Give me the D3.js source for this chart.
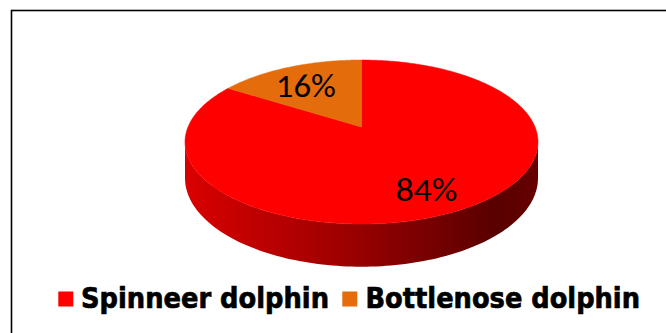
<!DOCTYPE html>
<html>
<head>
<meta charset="utf-8">
<script src="https://cdn.jsdelivr.net/npm/d3@7"></script>
<style>
  html, body { margin: 0; padding: 0; background: #fff; }
  svg { display: block; }
</style>
</head>
<body>
<svg id="chart" width="666" height="333"></svg>
<script>
// ---- data ----
const categories = ["Spinneer dolphin", "Bottlenose dolphin"];
const values = [84, 16];
const labels = ["84%", "16%"];
const colors = ["#FF0000", "#E46C0A"];

// ---- layout ----
const W = 666, H = 333;
const cx = 361.5;          // horizontal centre of the pie
const yApex = 127;         // projected centre of the top face
const yTopRim = 60;        // far edge of top face
const yBottomRim = 224;    // near edge of top face
const halfWidth = 176.5;   // widest half-width of top face
const frontDepth = 42.7;   // thickness at the near edge

// projective mapping of the tilted disc
const c = (2 * yApex - yBottomRim - yTopRim) / (yTopRim - yBottomRim);
const a = yTopRim * (c + 1) - yApex;
const k = halfWidth * Math.sqrt(1 - c * c);
const d0 = frontDepth * (1 - c);

function project(theta, f = 1) {
  const u = f * Math.cos(theta), s = f * Math.sin(theta);
  const w = 1 + c * u;
  return [cx + k * s / w, (a * u + yApex) / w];
}
function projectBottom(theta) {
  const [x, y] = project(theta);
  const w = 1 + c * Math.cos(theta);
  return [x, y + d0 / w];
}

const svg = d3.select("#chart");

// frame
svg.append("rect")
  .attr("x", 11.5).attr("y", 10.5)
  .attr("width", 720).attr("height", 400)
  .attr("fill", "none").attr("stroke", "#000").attr("stroke-width", 1.6);

const pie = d3.pie().sort(null).value(d => d).startAngle(0).endAngle(2 * Math.PI);
const arcs = pie(values);

// side gradients
const defs = svg.append("defs");
arcs.forEach((d, i) => {
  const base = d3.rgb(colors[i]);
  const g = defs.append("linearGradient")
    .attr("id", "side" + i)
    .attr("gradientUnits", "userSpaceOnUse")
    .attr("x1", cx - halfWidth).attr("x2", cx + halfWidth)
    .attr("y1", 0).attr("y2", 0);
  const scaleCol = (m) => d3.rgb(base.r * m, base.g * m, base.b * m).formatHex();
  g.append("stop").attr("offset", "0%").attr("stop-color", scaleCol(0.85));
  g.append("stop").attr("offset", "45%").attr("stop-color", scaleCol(0.62));
  g.append("stop").attr("offset", "88%").attr("stop-color", scaleCol(0.35));
  g.append("stop").attr("offset", "100%").attr("stop-color", scaleCol(0.40));
});

// visible front side: between silhouette angles
const thL = Math.acos(-c);                 // right silhouette
const thR = 2 * Math.PI - Math.acos(-c);   // left silhouette
const line = d3.line();
const sideG = svg.append("g");
arcs.forEach((d, i) => {
  const s0 = Math.max(d.startAngle, thL), s1 = Math.min(d.endAngle, thR);
  if (s1 <= s0) return;
  const n = 120;
  const ts = d3.range(n + 1).map(j => s0 + (s1 - s0) * j / n);
  const pts = ts.map(t => project(t)).concat(ts.slice().reverse().map(t => projectBottom(t)));
  sideG.append("path")
    .attr("d", line(pts) + "Z")
    .attr("fill", `url(#side${i})`);
});

// top face slices
const topG = svg.append("g");
arcs.forEach((d, i) => {
  const n = Math.max(8, Math.ceil((d.endAngle - d.startAngle) * 60));
  const ts = d3.range(n + 1).map(j => d.startAngle + (d.endAngle - d.startAngle) * j / n);
  const pts = [project(0, 0)].concat(ts.map(t => project(t)));
  topG.append("path")
    .attr("d", line(pts) + "Z")
    .attr("fill", colors[i])
    .attr("stroke", colors[i]).attr("stroke-width", 0.5);
});

// data labels
const labelRadius = 0.7;
const labelShift = [[-1, 8], [-3, 2]];
const labelWidth = [62, 60];
arcs.forEach((d, i) => {
  const mid = (d.startAngle + d.endAngle) / 2;
  const [x, y] = project(mid, labelRadius);
  svg.append("text")
    .attr("x", x + labelShift[i][0]).attr("y", y + labelShift[i][1])
    .attr("dy", "0.35em")
    .attr("text-anchor", "middle")
    .attr("font-family", "Carlito, Lato, 'Open Sans', sans-serif")
    .attr("font-size", 33)
    .attr("textLength", labelWidth[i])
    .attr("lengthAdjust", "spacingAndGlyphs")
    .attr("fill", "#000")
    .text(labels[i]);
});

// legend
const legendItems = [
  { sx: 58.3, tx: 81, tw: 248 },
  { sx: 342.3, tx: 365.5, tw: 274.5 }
];
const lg = svg.append("g");
categories.forEach((name, i) => {
  const it = legendItems[i];
  lg.append("rect")
    .attr("x", it.sx).attr("y", 291.5)
    .attr("width", 15).attr("height", 15)
    .attr("fill", colors[i]);
  lg.append("text")
    .attr("x", it.tx).attr("y", 308)
    .attr("font-family", "'DejaVu Sans', Verdana, sans-serif")
    .attr("font-weight", "bold")
    .attr("font-size", 28)
    .attr("textLength", it.tw)
    .attr("lengthAdjust", "spacingAndGlyphs")
    .attr("fill", "#000")
    .attr("stroke", "#000").attr("stroke-width", 0.7)
    .text(name);
});
</script>
</body>
</html>
